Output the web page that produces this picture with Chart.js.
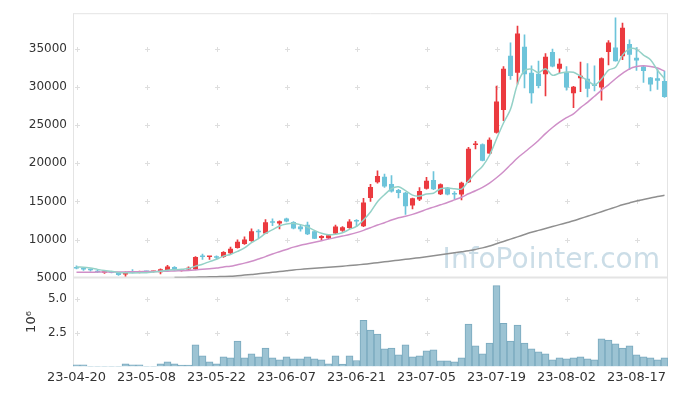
<!DOCTYPE html>
<html>
<head>
<meta charset="utf-8">
<script src="https://cdn.jsdelivr.net/npm/chart.js@4.4.1/dist/chart.umd.min.js"></script>
<style>
html, body { margin: 0; padding: 0; background: #fff; }
</style>
</head>
<body>
<canvas id="stockChart" width="677" height="396"></canvas>
<script>
Chart.defaults.font.family = "'DejaVu Sans', sans-serif";
Chart.defaults.color = '#333';

// trading days, yy-mm-dd
const dates = [
    '23-04-20', '23-04-21', '23-04-24', '23-04-25', '23-04-26', '23-04-27', '23-04-28',
    '23-05-02', '23-05-03', '23-05-04', '23-05-08', '23-05-09', '23-05-10', '23-05-11', '23-05-12',
    '23-05-15', '23-05-16', '23-05-17', '23-05-18', '23-05-19', '23-05-22', '23-05-23', '23-05-24',
    '23-05-25', '23-05-26', '23-05-30', '23-05-31',
    '23-06-01', '23-06-02', '23-06-05', '23-06-07', '23-06-08', '23-06-09', '23-06-12', '23-06-13',
    '23-06-14', '23-06-15', '23-06-16', '23-06-19', '23-06-20', '23-06-21', '23-06-22', '23-06-23',
    '23-06-26', '23-06-27', '23-06-28', '23-06-29', '23-06-30',
    '23-07-03', '23-07-04', '23-07-05', '23-07-06', '23-07-07', '23-07-10', '23-07-11', '23-07-12',
    '23-07-13', '23-07-14', '23-07-17', '23-07-18', '23-07-19', '23-07-20', '23-07-21', '23-07-24',
    '23-07-25', '23-07-26', '23-07-27', '23-07-28', '23-07-31',
    '23-08-01', '23-08-02', '23-08-03', '23-08-04', '23-08-07', '23-08-08', '23-08-09', '23-08-10',
    '23-08-11', '23-08-14', '23-08-16', '23-08-17', '23-08-18', '23-08-21', '23-08-22', '23-08-23'
];

const opens = [
    6400, 6200, 6100, 5900, 5650, 5750, 5650, 5400, 5800, 5650,
    5800, 5750, 5700, 6000, 6400, 5900, 6050, 6100, 7800, 7700,
    7750, 7700, 8200, 8900, 9400, 9800, 11050, 10800, 12300, 12100,
    12750, 12300, 11700, 11950, 11100, 10200, 10150, 10800, 11150, 11500,
    12500, 11750, 15450, 17500, 18250, 17300, 16500, 16150, 14450, 15250,
    16650, 17800, 15950, 16800, 16000, 15900, 17500, 22400, 22500, 21300,
    24000, 27000, 34100, 31900, 35300, 31900, 31750, 31700, 34600, 32400,
    31950, 29200, 31150, 31100, 30450, 29950, 34600, 35200, 34050, 35650,
    33850, 32700, 31250, 31150, 30800
];
const highs = [
    6550, 6250, 6150, 5950, 5850, 5800, 5700, 5750, 6050, 5850,
    5850, 5850, 6150, 6600, 6450, 6100, 6400, 7750, 8100, 7750,
    7850, 8400, 9000, 9950, 10350, 11400, 11300, 12600, 12700, 12450,
    12800, 12350, 11900, 12300, 11150, 10500, 10600, 11900, 11700, 12600,
    12600, 15400, 17250, 19000, 18600, 18400, 16600, 16200, 15450, 16800,
    18150, 18900, 17300, 16850, 16300, 17550, 22100, 22900, 22550, 23350,
    30150, 32700, 35800, 38000, 36850, 32800, 33400, 34400, 35000, 33700,
    32700, 30100, 33300, 33100, 32800, 33850, 36100, 39100, 38400, 36200,
    35200, 32750, 31300, 32400, 32100
];
const lows = [
    6150, 5950, 5850, 5650, 5550, 5600, 5300, 5200, 5600, 5600,
    5700, 5700, 5500, 5950, 5950, 5850, 6000, 6050, 7400, 7400,
    7450, 7650, 8150, 8850, 9350, 9750, 10200, 10750, 11800, 11400,
    12300, 11400, 11100, 10650, 10100, 9900, 10100, 10700, 11050, 11450,
    11700, 11700, 15000, 17400, 16850, 16200, 15450, 13300, 14000, 15100,
    16600, 16550, 15900, 15850, 15300, 15200, 17450, 21900, 20300, 21250,
    23950, 25600, 31000, 30400, 29900, 27900, 29900, 28850, 32650, 31900,
    29600, 27300, 29400, 28700, 29500, 28300, 32900, 33400, 33600, 32300,
    32200, 30600, 29500, 29700, 28650
];
const closes = [
    6200, 6050, 5950, 5700, 5750, 5650, 5350, 5700, 5650, 5800,
    5750, 5800, 6100, 6450, 6050, 6050, 6300, 7700, 7700, 7750,
    7600, 8350, 8800, 9700, 10000, 11100, 10950, 12250, 12200, 12400,
    12350, 11450, 11350, 10700, 10100, 10450, 10550, 11700, 11600, 12350,
    12350, 14850, 16900, 18350, 16950, 16300, 16100, 14350, 15400, 16350,
    17700, 16600, 17250, 15900, 15900, 17450, 21900, 22500, 20350, 23100,
    28100, 32400, 31450, 37050, 31700, 29200, 30150, 34000, 32700, 33050,
    29950, 30050, 31500, 29800, 30150, 33800, 35850, 33400, 37800, 34250,
    33500, 32100, 30350, 30850, 28700
];

// moving averages
const ma5 = [
    6380, 6370, 6250, 6080, 5930, 5820, 5680, 5630, 5620, 5630,
    5650, 5740, 5820, 5980, 6030, 6090, 6190, 6510, 6760, 7100,
    7410, 7820, 8040, 8440, 8890, 9590, 10110, 10800, 11300, 11780,
    12030, 12130, 11950, 11650, 11190, 10810, 10630, 10700, 10880, 11330,
    11710, 12570, 13610, 14960, 15880, 16670, 16920, 16410, 15820, 15700,
    15980, 16080, 16660, 16760, 16670, 16620, 17680, 18730, 19620, 21060,
    23190, 25290, 27080, 30420, 32140, 32360, 31910, 32420, 31550, 31820,
    31970, 31950, 31450, 30870, 30290, 31060, 32220, 32600, 34200, 35020,
    34960, 34210, 33600, 32210, 31100
];
const ma20 = [
    5700, 5700, 5710, 5720, 5730, 5740, 5740, 5750, 5760, 5780,
    5790, 5800, 5820, 5850, 5870, 5900, 5940, 6010, 6090, 6170,
    6250, 6400, 6500, 6700, 6900, 7150, 7450, 7750, 8100, 8400,
    8700, 9000, 9250, 9450, 9650, 9850, 10050, 10250, 10450, 10650,
    10900, 11200, 11550, 11900, 12200, 12550, 12850, 13050, 13300, 13600,
    13950, 14250, 14550, 14850, 15200, 15550, 16000, 16400, 16850, 17400,
    18100, 18900, 19800, 20700, 21450, 22200, 23000, 23900, 24700, 25400,
    26000, 26500, 27300, 28000, 28800, 29600, 30300, 31100, 31800, 32400,
    32700, 32800, 32700, 32500, 32100
];
const ma60 = [
    null, null, null, null, null, null, null, null, null, null,
    null, null, null, null, 5000, 5020, 5040, 5060, 5080, 5100,
    5120, 5140, 5170, 5250, 5330, 5420, 5500, 5600, 5700, 5800,
    5900, 6000, 6080, 6150, 6220, 6290, 6360, 6430, 6500, 6580,
    6660, 6750, 6850, 6960, 7070, 7180, 7290, 7400, 7510, 7620,
    7740, 7860, 7990, 8120, 8250, 8380, 8520, 8700, 8900, 9150,
    9450, 9750, 10050, 10350, 10650, 10950, 11200, 11450, 11700, 11950,
    12200, 12450, 12750, 13050, 13350, 13650, 13950, 14250, 14550, 14800,
    15050, 15250, 15450, 15650, 15800
];

// volume in millions (axis unit 10^6)
const volumes = [
    0.12, 0.12, 0.01, 0.01, 0.01, 0.01, 0.01, 0.2, 0.12, 0.12,
    0.01, 0.01, 0.2, 0.34, 0.2, 0.1, 0.1, 1.6, 0.79, 0.34,
    0.2, 0.71, 0.64, 1.89, 0.64, 0.93, 0.71, 1.37, 0.64, 0.49,
    0.71, 0.56, 0.56, 0.71, 0.56, 0.49, 0.2, 0.79, 0.17, 0.79,
    0.44, 3.43, 2.7, 2.4, 1.3, 1.37, 0.86, 1.6, 0.71, 0.79,
    1.15, 1.23, 0.42, 0.42, 0.34, 0.64, 3.14, 1.52, 0.93, 1.74,
    6.0, 3.2, 1.89, 3.07, 1.74, 1.3, 1.08, 0.93, 0.49, 0.64,
    0.56, 0.64, 0.71, 0.56, 0.49, 2.04, 1.96, 1.67, 1.37, 1.52,
    0.86, 0.71, 0.64, 0.49, 0.64
];

const priceTicks = [5000, 10000, 15000, 20000, 25000, 30000, 35000];
const volumeTicks = [2.5, 5.0];

const UP = '#eb3a3f';
const DOWN = '#6dc4da';
const candleColors = closes.map((c, i) => c >= opens[i] ? UP : DOWN);

// light grey "+" marks at grid crossings, panel frame and the watermark
const decorPlugin = {
    id: 'decor',
    beforeDatasetsDraw(chart) {
        const { ctx, scales } = chart;
        const x = scales.x, y = scales.y, yv = scales.yv;
        ctx.save();
        ctx.font = '28px "DejaVu Sans"';
        ctx.fillStyle = '#cbdde7';
        ctx.textAlign = 'right';
        ctx.textBaseline = 'alphabetic';
        ctx.fillText('InfoPointer.com', 660, 268);

        ctx.strokeStyle = '#dedede';
        ctx.lineWidth = 1;
        const ys = priceTicks.filter(v => v > 5000).map(v => y.getPixelForValue(v))
            .concat(volumeTicks.map(v => yv.getPixelForValue(v)));
        for (let i = 0; i < dates.length; i += 10) {
            const px = Math.round(x.getPixelForValue(i)) + 0.5;
            ys.forEach(py => {
                const qy = Math.round(py) + 0.5;
                ctx.beginPath();
                ctx.moveTo(px - 2.5, qy); ctx.lineTo(px + 2.5, qy);
                ctx.moveTo(px, qy - 2.5); ctx.lineTo(px, qy + 2.5);
                ctx.stroke();
            });
        }

        const area = chart.chartArea;
        ctx.strokeStyle = '#e4e4e4';
        ctx.beginPath();
        ctx.moveTo(area.left + 0.5, area.top + 0.5);
        ctx.lineTo(area.right - 0.5, area.top + 0.5);
        ctx.moveTo(area.left + 0.5, area.top);
        ctx.lineTo(area.left + 0.5, area.bottom);
        ctx.moveTo(area.right - 0.5, area.top);
        ctx.lineTo(area.right - 0.5, area.bottom);
        ctx.stroke();
        ctx.lineWidth = 2;
        ctx.beginPath();
        ctx.moveTo(area.left, y.bottom);
        ctx.lineTo(area.right, y.bottom);
        ctx.stroke();
        ctx.restore();
    }
};

const lineStyle = {
    type: 'line',
    yAxisID: 'y',
    pointRadius: 0,
    borderWidth: 1.5,
    tension: 0.3,
    fill: false,
    order: 0
};

new Chart(document.getElementById('stockChart').getContext('2d'), {
    type: 'bar',
    data: {
        labels: dates,
        datasets: [
            Object.assign({}, lineStyle, { label: 'MA5', data: ma5, borderColor: '#94d1c7' }),
            Object.assign({}, lineStyle, { label: 'MA20', data: ma20, borderColor: '#cf8fc8' }),
            Object.assign({}, lineStyle, { label: 'MA60', data: ma60, borderColor: '#8f8f8f' }),
            {
                label: 'Body',
                data: opens.map((o, i) => [o, closes[i]]),
                backgroundColor: candleColors,
                yAxisID: 'y',
                grouped: false,
                barPercentage: 0.72,
                categoryPercentage: 1,
                minBarLength: 1.5,
                order: 1
            },
            {
                label: 'Wick',
                data: lows.map((l, i) => [l, highs[i]]),
                backgroundColor: candleColors,
                yAxisID: 'y',
                grouped: false,
                barThickness: 1,
                order: 2
            },
            {
                label: 'Volume',
                data: volumes,
                backgroundColor: '#9cc3d3',
                borderColor: '#79a9be',
                borderWidth: 1,
                yAxisID: 'yv',
                grouped: false,
                barPercentage: 1,
                categoryPercentage: 1,
                order: 3
            }
        ]
    },
    options: {
        responsive: false,
        animation: false,
        layout: {
            padding: { top: 10, right: 9, left: 0, bottom: 8 }
        },
        plugins: {
            legend: { display: false },
            tooltip: { enabled: false }
        },
        scales: {
            x: {
                offset: true,
                grid: { display: false, drawTicks: false },
                border: { display: false },
                ticks: {
                    autoSkip: false,
                    maxRotation: 0,
                    padding: 3,
                    font: { size: 13 },
                    callback: (v, i) => i % 10 === 0 ? dates[i] : ''
                }
            },
            y: {
                position: 'left',
                stack: 'panels',
                stackWeight: 268,
                weight: 2,
                min: 5000,
                max: 39700,
                grid: { display: false, drawTicks: false },
                border: { display: false },
                ticks: {
                    padding: 6,
                    font: { size: 12 },
                    callback: v => String(v)
                },
                afterBuildTicks: axis => {
                    axis.ticks = priceTicks.map(v => ({ value: v }));
                },
                afterFit: axis => { axis.width = 73; }
            },
            yv: {
                position: 'left',
                stack: 'panels',
                stackWeight: 90,
                weight: 1,
                min: 0,
                max: 6.6,
                grid: { display: false, drawTicks: false },
                border: { display: false },
                ticks: {
                    padding: 6,
                    font: { size: 12 },
                    callback: v => v.toFixed(1)
                },
                afterBuildTicks: axis => {
                    axis.ticks = volumeTicks.map(v => ({ value: v }));
                },
                title: {
                    display: true,
                    text: '10⁶',
                    font: { size: 13 },
                    padding: { top: 24, bottom: 0 }
                },
                afterFit: axis => { axis.width = 73; }
            }
        }
    },
    plugins: [decorPlugin]
});
</script>
</body>
</html>
